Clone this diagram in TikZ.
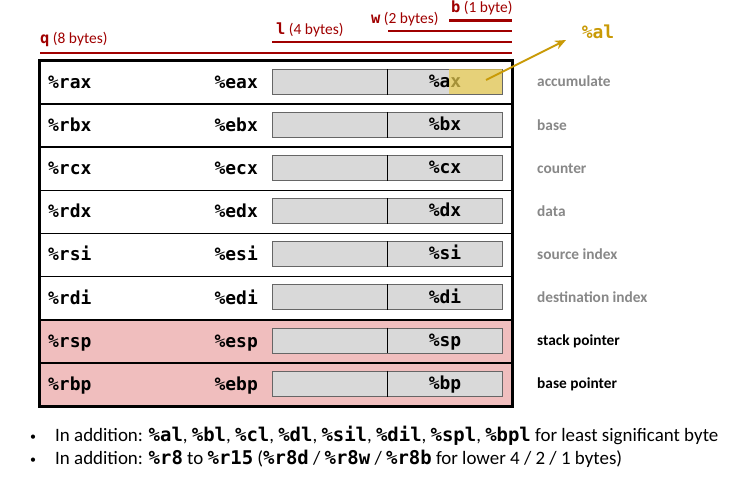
\documentclass[tikz,border=0pt]{standalone}
\usepackage{fontspec}
\setmainfont{Carlito}
\newfontfamily\regfont{DejaVu Sans Mono}
\usetikzlibrary{arrows.meta}
\definecolor{sizered}{HTML}{A00000}
\definecolor{rowpink}{HTML}{F0BEBE}
\definecolor{barfill}{HTML}{D9D9D9}
\definecolor{barline}{HTML}{666666}
\definecolor{descgray}{HTML}{888888}
\definecolor{algold}{HTML}{C99A06}
\definecolor{hlyellow}{HTML}{ECCF51}
\newcommand{\mreg}[1]{{\regfont\bfseries #1}}
\begin{document}
\begin{tikzpicture}[x=1bp,y=-1bp,
  reg/.style={font=\regfont\bfseries\fontsize{18}{21}\selectfont, inner sep=0},
  rowbox/.style={draw=black, line width=1.6bp, minimum width=472bp, minimum height=43.125bp, inner sep=0},
  barcell/.style={draw=barline, fill=barfill, line width=0.9bp, minimum height=25bp, inner sep=0},
  desc/.style={font=\bfseries\fontsize{15.4}{18}\selectfont, inner sep=0, anchor=mid west},
  sizelab/.style={font=\fontsize{15.5}{18}\selectfont, text=sizered, inner sep=0, anchor=base west},
  sizeline/.style={draw=sizered, line width=2.2bp},
  alarrow/.style={draw=algold, line width=2bp, -{Stealth[length=11bp,width=9bp]}},
  bullet/.style={font=\fontsize{19}{23}\selectfont, inner sep=0, anchor=mid west},
  bulletdot/.style={font=\fontsize{12}{14}\selectfont, inner sep=0, anchor=center}
]
\useasboundingbox (0,0) rectangle (729,478);
\fill[white] (0,0) rectangle (729,478);

% size indicators
\node[sizelab] (qlab) at (40,44) {\mreg{q} (8 bytes)};
\node[sizelab] (llab) at (276,34.5) {\mreg{l} (4 bytes)};
\node[sizelab] (wlab) at (371,24) {\mreg{w} (2 bytes)};
\node[sizelab] (blab) at (451,12.5) {\mreg{b} (1 byte)};
\coordinate (qa) at (40,52.7);  \coordinate (qb) at (512,52.7);
\coordinate (la) at (272,42);   \coordinate (lb) at (512,42);
\coordinate (wa) at (388,31);   \coordinate (wb) at (512,31);
\coordinate (ba) at (449,20.5); \coordinate (bb) at (512,20.5);
\draw[sizeline] (qa) -- (qb);
\draw[sizeline] (la) -- (lb);
\draw[sizeline] (wa) -- (wb);
\draw[sizeline] (ba) -- (bb);

% register rows
\foreach \r/\e/\s/\d/\c/\f [count=\i from 0] in {
  rax/eax/ax/accumulate/descgray/white,
  rbx/ebx/bx/base/descgray/white,
  rcx/ecx/cx/counter/descgray/white,
  rdx/edx/dx/data/descgray/white,
  rsi/esi/si/source index/descgray/white,
  rdi/edi/di/destination index/descgray/white,
  rsp/esp/sp/stack pointer/black/rowpink,
  rbp/ebp/bp/base pointer/black/rowpink}
{
  \pgfmathsetmacro\yc{61+\i*43.125+21.5625}
  \node[rowbox, fill=\f] (row\i) at (276,\yc) {};
  \node[barcell, minimum width=115bp] (hi\i) at (330.2,\yc-0.8) {};
  \node[barcell, minimum width=114.6bp] (lo\i) at (445,\yc-0.8) {};
  \draw[black, line width=0.8bp] (lo\i.north west) -- (lo\i.south west);
  \node[reg, anchor=mid west] (r\i) at (48,\yc+3.5) {\%\r};
  \node[reg, anchor=mid east] (e\i) at (258,\yc+3.5) {\%\e};
  \node[reg, anchor=mid] (s\i) at (445,\yc+2.5) {\%\s};
  \node[desc, text=\c] (d\i) at (537,\yc+2) {\d};
}
\draw[black, line width=2bp] (row0.north west) rectangle (row7.south east);

% %al highlight
\node[fill=hlyellow, fill opacity=0.7, minimum width=53bp, minimum height=25bp, inner sep=0] (alb) at (475.8,81.7) {};
\node[reg, text=algold, anchor=mid] (allab) at (598,36) {\%al};
\coordinate (altail) at (486,80);
\coordinate (altip) at (566,40);
\draw[alarrow] (altail) -- (altip);

% bullets
\node[bulletdot] (b1) at (33,438) {\textbullet};
\node[bullet] (t1) at (55,439) {In addition: \mreg{\%al}, \mreg{\%bl}, \mreg{\%cl}, \mreg{\%dl}, \mreg{\%sil}, \mreg{\%dil}, \mreg{\%spl}, \mreg{\%bpl} for least significant byte};
\node[bulletdot] (b2) at (33,461) {\textbullet};
\node[bullet] (t2) at (55,462) {In addition: \mreg{\%r8} to \mreg{\%r15} (\mreg{\%r8d} / \mreg{\%r8w} / \mreg{\%r8b} for lower 4 / 2 / 1 bytes)};
\end{tikzpicture}
\end{document}
